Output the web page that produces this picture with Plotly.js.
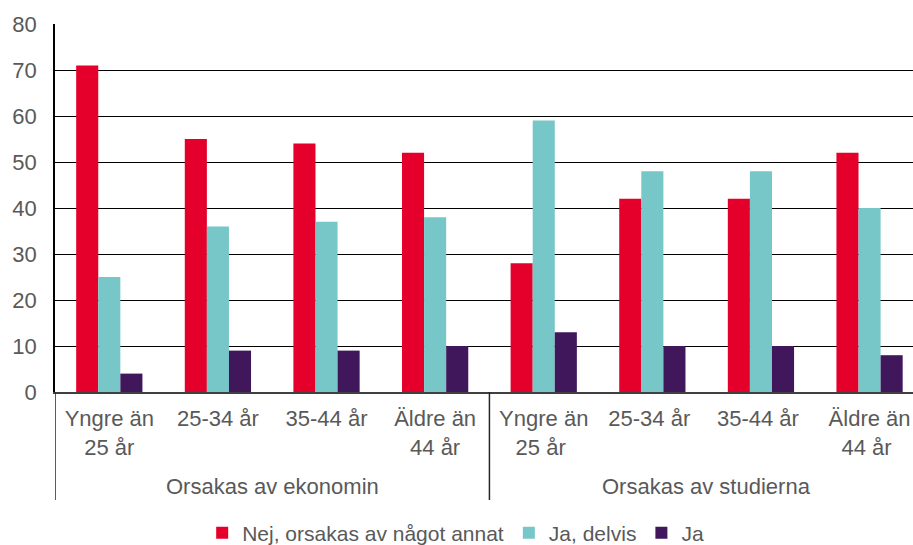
<!DOCTYPE html>
<html>
<head>
<meta charset="utf-8">
<script src="https://cdn.plot.ly/plotly-3.0.1.min.js"></script>
<style>html,body{margin:0;padding:0;overflow:hidden;background:#fff}</style>
</head>
<body>
<div id="chart" style="width:913px;height:545px"></div>
<script>
const groupLabels = ["Orsakas av ekonomin","Orsakas av studierna"];
const ages = ["Yngre än<br>25 år","25-34 år","35-44 år","Äldre än<br>44 år",
              "Yngre än<br>25 år ","25-34 år ","35-44 år ","Äldre än<br>44 år "];
const seriesNames = ["Nej, orsakas av något annat","Ja, delvis","Ja"];
const nej = [71,55,54,52,28,42,42,52];
const delvis = [25,36,37,38,59,48,48,40];
const ja = [4,9,9,10,13,10,10,8];
const colors = ["#e4002b","#77c6c8","#41175c"];

const vals = [nej, delvis, ja];
const traces = vals.map((v,i)=>({
  type:'bar', name: seriesNames[i], x:ages, y:v,
  marker:{color:colors[i]}
}));

const perGroup = ages.length / groupLabels.length;
const annotations = groupLabels.map((g,k)=>({
  text:g, xref:'x', yref:'paper', x:k*perGroup + (perGroup-1)/2, y:-0.258,
  xanchor:'center', yanchor:'middle', showarrow:false,
  font:{size:22, color:'#595959'}
}));
const shapes = groupLabels.map((g,k)=>({
  type:'line', xref:'x', yref:'paper', x0:k*perGroup-0.5, x1:k*perGroup-0.5, y0:0, y1:-0.2935,
  line:{color:'#262626', width:1.5}
}));

const layout = {
  width:913, height:545,
  margin:{l:55, r:0, t:24, b:153},
  barmode:'group', bargap:0.39, bargroupgap:0,
  font:{family:'"Liberation Sans", Arial, sans-serif', size:22, color:'#595959'},
  paper_bgcolor:'#fff', plot_bgcolor:'#fff',
  showlegend:true,
  legend:{orientation:'h', x:0.467, xanchor:'center', y:0.022, yanchor:'middle', yref:'container',
          font:{size:21, color:'#595959'}, traceorder:'normal', itemwidth:30},
  annotations: annotations,
  shapes: shapes,
  xaxis:{type:'category', range:[-0.5,7.4], showline:true, linecolor:'#404040', linewidth:1.5,
         ticks:'', tickfont:{size:22, color:'#595959'}, showgrid:false, ticklabelstandoff:6},
  yaxis:{range:[0,80], dtick:10, showgrid:true, gridcolor:'#000', gridwidth:1.2,
         showline:true, linecolor:'#000', linewidth:1.5, zeroline:false,
         ticks:'', tickfont:{size:22, color:'#595959'}, ticklen:0, ticklabelstandoff:12}
};
Plotly.newPlot('chart', traces, layout, {displayModeBar:false});
</script>
</body>
</html>
